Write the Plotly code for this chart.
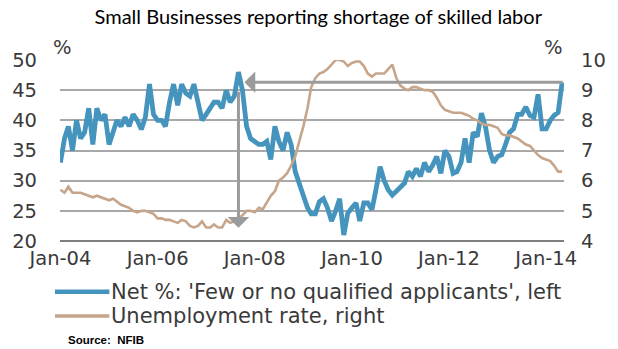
import pandas as pd
import plotly.graph_objects as go

# Monthly observations, Jan 2004 - May 2014
dates = pd.date_range("2004-01-01", "2014-05-01", freq="MS")

# NFIB net % of firms reporting few or no qualified applicants (left axis)
skilled_shortage = [
    33, 37, 39, 35, 40, 37, 38, 42, 36, 42, 40, 41,
    36, 38, 40, 39, 40.5, 39, 41, 40, 38.5, 40.5, 46, 41,
    40, 40, 39, 43, 46, 42.5, 46, 44.5, 44, 46, 43, 40,
    41, 42, 43, 43, 42, 45, 43, 44, 48, 45, 39, 37,
    36.5, 36, 36, 36.5, 33.5, 39, 36.5, 35, 38, 36, 31.5, 29.5,
    27.5, 25.5, 24.5, 24.5, 26.5, 27, 25.5, 23.3, 25, 27, 21, 24.6,
    25.5, 26.3, 23.3, 26.3, 26.3, 25.2, 28.5, 32.3, 30, 28.5, 27.6, 28.2,
    29, 29.6, 31.5, 30.7, 32, 30.7, 33, 31.5, 32.6, 34, 31.2, 35,
    34, 31.2, 31.5, 33, 37, 33, 38, 37.3, 41.2, 39, 35, 33,
    34, 34.3, 36, 38, 38.6, 41, 41, 42.2, 40.8, 40.5, 44.3, 38.6,
    38.6, 40, 40.8, 41.3, 46.3,
]

# US unemployment rate, % (right axis)
unemployment = [
    5.7, 5.6, 5.8, 5.6, 5.6, 5.6, 5.55, 5.5, 5.45, 5.5, 5.45, 5.4,
    5.35, 5.4, 5.3, 5.2, 5.15, 5.1, 5.0, 4.95, 5.0, 5.0, 4.95, 4.9,
    4.75, 4.75, 4.7, 4.7, 4.65, 4.6, 4.7, 4.65, 4.5, 4.45, 4.5, 4.65,
    4.45, 4.45, 4.55, 4.45, 4.45, 4.7, 4.6, 4.65, 4.75, 4.85, 5.0, 5.0,
    4.95, 5.1, 5.05, 5.3, 5.5, 5.65, 6.0, 6.1, 6.25, 6.5, 6.8, 7.3,
    7.8, 8.4, 9.1, 9.4, 9.55, 9.6, 9.7, 9.85, 10.0, 10.0, 9.95, 9.8,
    9.9, 9.95, 9.95, 9.8, 9.55, 9.45, 9.55, 9.55, 9.55, 9.7, 9.85, 9.4,
    9.15, 9.05, 9.0, 9.1, 9.1, 9.05, 9.0, 9.0, 8.95, 8.75, 8.5, 8.35,
    8.3, 8.25, 8.25, 8.25, 8.2, 8.15, 8.05, 8.0, 7.9, 7.85, 7.85, 7.8,
    7.75, 7.55, 7.5, 7.5, 7.45, 7.4, 7.3, 7.2, 7.15, 7.0, 6.85, 6.75,
    6.7, 6.65, 6.5, 6.3, 6.3,
]

series_names = [
    "Net %: 'Few or no qualified applicants', left",
    "Unemployment rate, right",
]
left_ticks = [20, 25, 30, 35, 40, 45, 50]
right_ticks = [4, 5, 6, 7, 8, 9, 10]

BLUE = "#4594bd"
TAN = "#c6a58a"
ARROW = "#9b9b9b"
GRID = "#a8a8a8"
TEXT = "#3a3a3a"
TICK_FONT = dict(family="DejaVu Sans", size=19.5, color=TEXT)

fig = go.Figure()
fig.add_trace(go.Scatter(
    x=dates, y=unemployment, name=series_names[1], yaxis="y2",
    mode="lines", line=dict(color=TAN, width=2.6), showlegend=False,
))
fig.add_trace(go.Scatter(
    x=dates, y=skilled_shortage, name=series_names[0],
    mode="lines", line=dict(color=BLUE, width=4.8), showlegend=False,
))

# Arrows: from the latest reading back to the 2007 peak, then down to the unemployment trough
peak_idx = max(range(len(skilled_shortage)), key=lambda i: skilled_shortage[i])
peak_date = dates[peak_idx]
last_val = skilled_shortage[-1]
arrow_common = dict(xref="x", yref="y", axref="x", ayref="y", text="", showarrow=True,
                    arrowhead=1, arrowsize=1.2, arrowwidth=3, arrowcolor=ARROW)
fig.add_annotation(x=peak_date + pd.Timedelta(days=45), y=last_val,
                   ax=dates[-1] + pd.Timedelta(days=14), ay=last_val, **arrow_common)
fig.add_annotation(x=peak_date, y=22.2, ax=peak_date, ay=45, **arrow_common)

fig.update_layout(
    width=618, height=349,
    margin=dict(l=57, r=51, t=60, b=108),
    paper_bgcolor="white", plot_bgcolor="white",
    title=dict(text="Small Businesses reporting shortage of skilled labor",
               x=0.515, xanchor="center", y=0.952, yanchor="middle",
               font=dict(family="Lato", size=20, color="black")),
    xaxis=dict(
        range=[dates[0] - pd.Timedelta(days=3), dates[-1] + pd.Timedelta(days=14)],
        tickformat="%b-%y", dtick="M24", tick0="2004-01-01",
        showgrid=False, showline=False, zeroline=False, ticks="",
        ticklabelstandoff=3, tickfont=TICK_FONT,
    ),
    yaxis=dict(
        range=[20, 50], tickvals=left_ticks, showgrid=True, gridcolor=GRID, gridwidth=1.5,
        zeroline=False, showline=False, ticks="", ticklabelstandoff=22, tickfont=TICK_FONT,
    ),
    yaxis2=dict(
        range=[4, 10], tickvals=right_ticks, overlaying="y", side="right",
        showgrid=False, zeroline=False, showline=False, ticks="",
        ticklabelstandoff=16, tickfont=TICK_FONT,
    ),
)

# Baseline under the plot
fig.add_shape(type="line", xref="paper", yref="paper", x0=0, x1=1, y0=0, y1=0,
              line=dict(color="#7f7f7f", width=2))

# Unit labels above each axis
fig.add_annotation(xref="paper", yref="paper", x=0.005, y=1.07, text="%", showarrow=False,
                   xanchor="center", yanchor="middle", font=TICK_FONT)
fig.add_annotation(xref="paper", yref="paper", x=0.98, y=1.07, text="%", showarrow=False,
                   xanchor="center", yanchor="middle", font=TICK_FONT)

# Hand-built legend: line sample plus label for each series
legend_rows = [(-0.28, BLUE, 4.5), (-0.415, TAN, 3.5)]
for (ypos, color, width), label in zip(legend_rows, series_names):
    fig.add_shape(type="line", xref="paper", yref="paper", x0=-0.01, x1=0.098,
                  y0=ypos, y1=ypos, line=dict(color=color, width=width))
    fig.add_annotation(xref="paper", yref="paper", x=0.098, y=ypos, text=label,
                       showarrow=False, xanchor="left", yanchor="middle",
                       font=dict(family="DejaVu Sans", size=21, color=TEXT))

fig.add_annotation(xref="paper", yref="paper", x=0.012, y=-0.545, text="<b>Source:  NFIB</b>",
                   showarrow=False, xanchor="left", yanchor="middle",
                   font=dict(family="Liberation Sans Narrow, Arial Narrow, sans-serif",
                             size=11.5, color="black"))

fig.write_html("out.html")
